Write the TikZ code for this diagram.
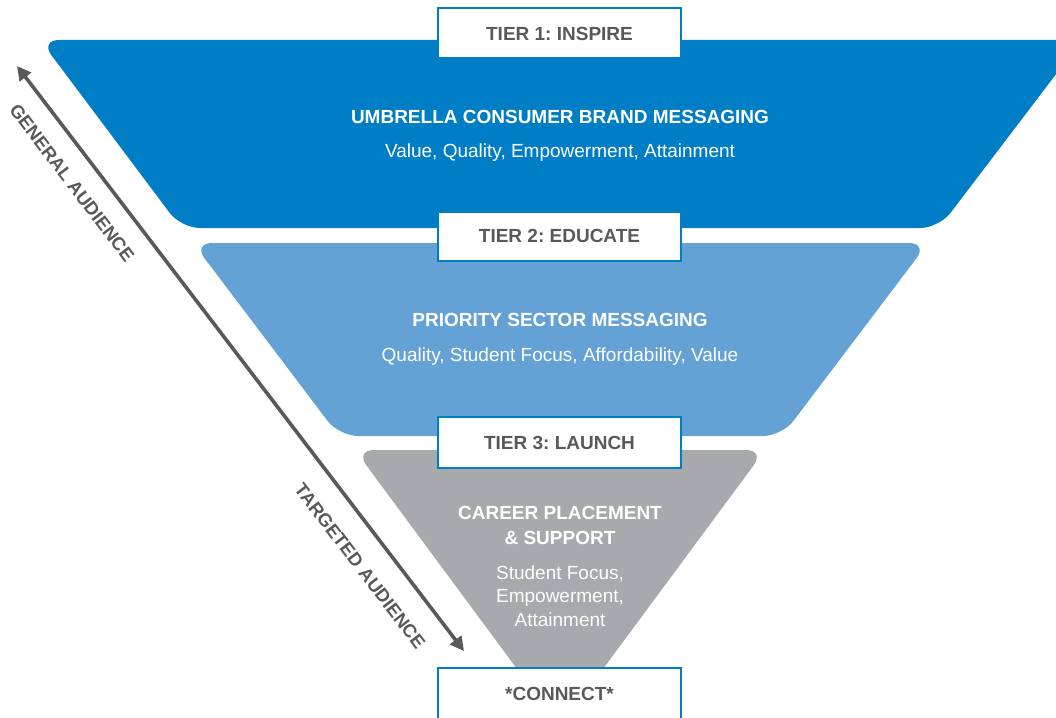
\documentclass[tikz,border=0pt]{standalone}
\usepackage{fontspec}
\setmainfont{Liberation Sans}
\usetikzlibrary{arrows.meta}
\definecolor{darkblue}{RGB}{0,126,197}
\definecolor{lightblue}{RGB}{100,162,214}
\definecolor{midgray}{RGB}{167,169,172}
\definecolor{textgray}{RGB}{88,89,91}
\frenchspacing
\tikzset{
  tierbox/.style={draw=darkblue,line width=2.5pt,fill=white,minimum width=243pt,inner sep=0pt},
  tiertext/.style={text=textgray,font=\fontsize{19}{23.5}\selectfont\bfseries,anchor=base},
  headtext/.style={text=white,font=\fontsize{19}{23.5}\selectfont\bfseries,anchor=base},
  bodytext/.style={text=white,font=\fontsize{19}{23.5}\selectfont,anchor=base},
  funnel/.style={rounded corners=19pt},
  audlabel/.style={text=textgray,font=\fontsize{18.5}{22}\selectfont\bfseries,rotate=-52.6},
  audarrow/.style={draw=textgray,line width=3.6pt,{Triangle[length=14pt,width=14pt]}-{Triangle[length=14pt,width=14pt]}}
}
\begin{document}
\begin{tikzpicture}[x=1pt,y=-1pt]
\useasboundingbox (0,0) rectangle (1056,717);
\clip (0,0) rectangle (1056,717);
% funnel tiers
\fill[darkblue,funnel] (40,40) -- (1082,40) -- (939,228) -- (181,228) -- cycle;
\fill[lightblue,funnel] (193,243) -- (928,243) -- (782,436) -- (339,436) -- cycle;
\fill[midgray,funnel] (355,450) -- (765,450) -- (560,727) -- cycle;
% tier boxes
\node[tierbox,minimum height=50pt] (t1) at (559.5,33) {};
\node[tiertext] (t1l) at (559.5,41) {TIER 1: INSPIRE};
\node[tierbox,minimum height=49pt] (t2) at (559.5,236.5) {};
\node[tiertext] (t2l) at (559.5,242) {TIER 2: EDUCATE};
\node[tierbox,minimum height=51pt] (t3) at (559.5,442.5) {};
\node[tiertext] (t3l) at (559.5,449) {TIER 3: LAUNCH};
\node[tierbox,minimum height=70pt] (t4) at (559.5,703) {};
\node[tiertext] (t4l) at (559.5,700) {*CONNECT*};
% texts
\node[headtext] (h1) at (560,123) {UMBRELLA CONSUMER BRAND MESSAGING};
\node[bodytext] (b1) at (560,157) {Value, Quality, Empowerment, Attainment};
\node[headtext] (h2) at (560,326) {PRIORITY SECTOR MESSAGING};
\node[bodytext] (b2) at (560,361) {Quality, Student Focus, Affordability, Value};
\node[headtext] (h3a) at (560,519) {CAREER PLACEMENT};
\node[headtext] (h3b) at (560,544) {\& SUPPORT};
\node[bodytext] (b3a) at (560,579) {Student Focus,};
\node[bodytext] (b3b) at (560,602.5) {Empowerment,};
\node[bodytext] (b3c) at (560,626) {Attainment};
% audience arrow
\coordinate (atop) at (17,66);
\coordinate (abot) at (464,651);
\draw[audarrow] (atop) -- (abot);
\node[audlabel] (gen) at (72,183) {GENERAL AUDIENCE};
\node[audlabel] (tar) at (360,566) {TARGETED AUDIENCE};
\end{tikzpicture}
\end{document}
